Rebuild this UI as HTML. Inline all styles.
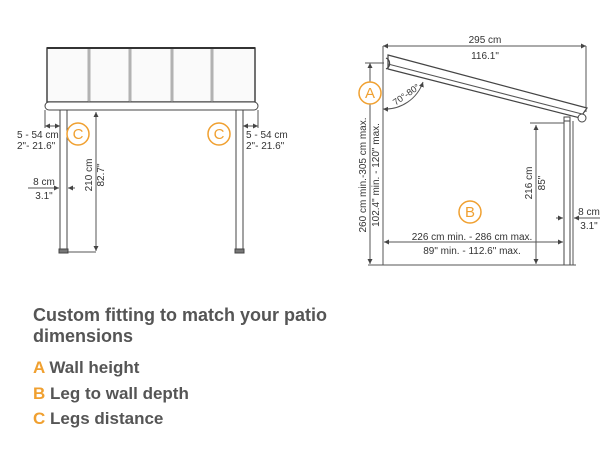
<!DOCTYPE html>
<html><head><meta charset="utf-8"><style>
html,body{margin:0;padding:0;background:#fff;width:610px;height:460px;overflow:hidden}
svg{display:block}
text{font-family:"Liberation Sans",sans-serif;fill:#333}
</style></head><body>
<svg width="610" height="460" viewBox="0 0 610 460" xmlns="http://www.w3.org/2000/svg">
<defs>
<marker id="ar" viewBox="0 0 6 6" refX="6" refY="3" markerWidth="5" markerHeight="5" orient="auto-start-reverse"><path d="M0,0L6,3L0,6z" fill="#444"/></marker>
</defs>
<g stroke="#555" fill="none" stroke-width="1">
<rect x="47" y="48" width="208" height="54" fill="#fafafa" stroke="#444" stroke-width="1.5"/>
<line x1="47" y1="48" x2="255" y2="48" stroke="#333" stroke-width="2"/>
<g stroke="#666" stroke-width="2.5"><line x1="89" y1="49" x2="89" y2="102"/><line x1="130" y1="49" x2="130" y2="102"/><line x1="172" y1="49" x2="172" y2="102"/><line x1="212" y1="49" x2="212" y2="102"/></g>
<g stroke="#fff" stroke-width="1"><line x1="89" y1="49" x2="89" y2="102"/><line x1="130" y1="49" x2="130" y2="102"/><line x1="172" y1="49" x2="172" y2="102"/><line x1="212" y1="49" x2="212" y2="102"/></g>
<rect x="45" y="102" width="213" height="8" rx="4" fill="#fff" stroke="#444"/>
<rect x="60" y="110" width="7" height="141" fill="#fff" stroke="#444"/>
<rect x="236" y="110" width="7" height="141" fill="#fff" stroke="#444"/>
<rect x="59" y="249" width="9" height="4" fill="#777" stroke="#444"/>
<rect x="235" y="249" width="9" height="4" fill="#777" stroke="#444"/>
<line x1="96" y1="112" x2="96" y2="251" marker-start="url(#ar)" marker-end="url(#ar)"/>
<line x1="67" y1="252" x2="96" y2="252"/>
<line x1="45" y1="110" x2="45" y2="128"/>
<line x1="45" y1="126" x2="60" y2="126" marker-start="url(#ar)" marker-end="url(#ar)"/>
<line x1="258" y1="110" x2="258" y2="128"/>
<line x1="243" y1="126" x2="258" y2="126" marker-start="url(#ar)" marker-end="url(#ar)"/>
<line x1="28" y1="188" x2="59" y2="188" marker-end="url(#ar)"/>
<line x1="75" y1="188" x2="68" y2="188" marker-end="url(#ar)"/>
<line x1="383" y1="46" x2="586" y2="46" marker-start="url(#ar)" marker-end="url(#ar)"/>
<line x1="383" y1="46" x2="383" y2="265"/>
<line x1="586" y1="46" x2="586" y2="112"/>
<polygon points="388,55 587,108 580,118 388,69" fill="#fff" stroke="#444" stroke-width="1.2"/>
<line x1="388" y1="64" x2="582" y2="114" stroke="#555"/>
<path d="M386,58 a6,6 0 0 1 0,11" stroke="#444" stroke-width="1.2"/>
<circle cx="582" cy="118" r="4" fill="#fff" stroke="#444"/>
<path d="M383,109 A40,40 0 0 0 423,82" marker-start="url(#ar)" marker-end="url(#ar)"/>
<line x1="370" y1="63" x2="370" y2="264" marker-start="url(#ar)" marker-end="url(#ar)"/>
<line x1="365" y1="63" x2="384" y2="63"/>
<rect x="564" y="121" width="6" height="144" fill="#fff" stroke="#444"/>
<line x1="573" y1="121" x2="573" y2="265"/>
<rect x="564" y="117" width="6" height="4" fill="#fff" stroke="#444"/>
<line x1="530" y1="123" x2="564" y2="123"/>
<line x1="536" y1="125" x2="536" y2="264" marker-start="url(#ar)" marker-end="url(#ar)"/>
<line x1="384" y1="242" x2="563" y2="242" marker-start="url(#ar)" marker-end="url(#ar)"/>
<line x1="368" y1="265" x2="576" y2="265"/>
<line x1="556" y1="218" x2="563" y2="218" marker-end="url(#ar)"/>
<line x1="600" y1="218" x2="574" y2="218" marker-end="url(#ar)"/>
</g>
<g stroke="#f0a030" stroke-width="1.5" fill="#fff">
<circle cx="78" cy="134" r="11"/><circle cx="219" cy="134" r="11"/>
<circle cx="370" cy="93" r="11"/><circle cx="470" cy="212" r="11"/>
</g>
<g font-size="15" text-anchor="middle">
<text x="78" y="139" style="fill:#f0a030">C</text><text x="219" y="139" style="fill:#f0a030">C</text>
<text x="370" y="98" style="fill:#f0a030">A</text><text x="470" y="217" style="fill:#f0a030">B</text>
</g>
<g font-size="10">
<text x="17" y="138">5 - 54 cm</text><text x="17" y="149">2"- 21.6"</text>
<text x="246" y="138">5 - 54 cm</text><text x="246" y="149">2"- 21.6"</text>
<text x="44" y="185" text-anchor="middle">8 cm</text><text x="44" y="199" text-anchor="middle">3.1"</text>
<text transform="translate(92,175) rotate(-90)" text-anchor="middle">210 cm</text>
<text transform="translate(104,175) rotate(-90)" text-anchor="middle">82.7"</text>
<text x="485" y="43" text-anchor="middle">295 cm</text><text x="485" y="59" text-anchor="middle">116.1"</text>
<text transform="translate(408,97) rotate(-35)" text-anchor="middle" font-size="9">70°-80°</text>
<text transform="translate(366,175) rotate(-90)" text-anchor="middle">260 cm min.-305 cm max.</text>
<text transform="translate(379,175) rotate(-90)" text-anchor="middle">102.4" min. - 120" max.</text>
<text transform="translate(532,183) rotate(-90)" text-anchor="middle">216 cm</text>
<text transform="translate(545,183) rotate(-90)" text-anchor="middle">85"</text>
<text x="472" y="240" text-anchor="middle">226 cm min. - 286 cm max.</text>
<text x="472" y="254" text-anchor="middle">89" min. - 112.6" max.</text>
<text x="589" y="215" text-anchor="middle">8 cm</text><text x="589" y="229" text-anchor="middle">3.1"</text>
</g>
<g font-size="17" font-weight="bold">
<text x="33" y="321" font-size="18" style="fill:#555">Custom fitting to match your patio</text>
<text x="33" y="342" font-size="18" style="fill:#555">dimensions</text>
<text x="33" y="373" style="fill:#555"><tspan style="fill:#f0a030">A</tspan> Wall height</text>
<text x="33" y="399" style="fill:#555"><tspan style="fill:#f0a030">B</tspan> Leg to wall depth</text>
<text x="33" y="424" style="fill:#555"><tspan style="fill:#f0a030">C</tspan> Legs distance</text>
</g>
</svg>
</body></html>
